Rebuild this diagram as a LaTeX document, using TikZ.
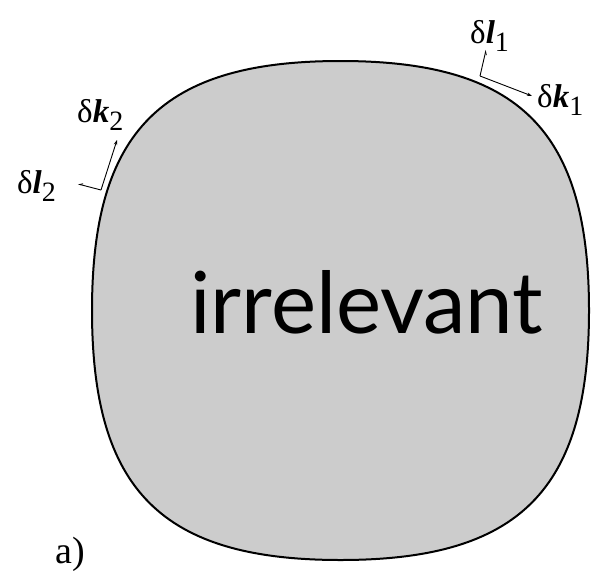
\documentclass[tikz,border=0pt]{standalone}
\usepackage{fontspec}
\usepackage{graphicx}
\setmainfont{Liberation Serif}
\newfontfamily\latofont{Lato}
\usetikzlibrary{arrows.meta}
\tikzset{
  blob/.style={draw=black, line width=2pt, fill=black!20},
  vec/.style={line width=0.9pt},
  kvec/.style={vec, -{Stealth[length=5pt,width=3.5pt]}},
  lvec/.style={vec, -{Straight Barb[harpoon,swap,length=3pt,width=3pt]}},
  lab/.style={anchor=base west, inner sep=0pt, font=\rmfamily\fontsize{33}{33}\selectfont},
}
\newcommand{\vsub}[1]{\raisebox{-8pt}{\fontsize{28}{28}\selectfont #1}}
\begin{document}
\begin{tikzpicture}[x=1pt,y=-1pt]
\useasboundingbox (0,0) rectangle (591,570);
% rounded square
\draw[blob] (340.5,61) .. controls (519.5,61) and (589,130.9) .. (589,310.5)
  .. controls (589,490.1) and (519.5,560) .. (340.5,560)
  .. controls (161.5,560) and (92,490.1) .. (92,310.5)
  .. controls (92,130.9) and (161.5,61) .. cycle;
\node[anchor=base west, inner sep=0pt] (irr) at (190,333)
  {\resizebox{353pt}{63pt}{\latofont irrelevant}};
% vectors at point 1
\coordinate (p1) at (480,76);
\coordinate (k1end) at (532,96);
\coordinate (l1end) at (486,50);
\draw[kvec] (p1) -- (k1end);
\draw[lvec] (p1) -- (l1end);
% vectors at point 2
\coordinate (p2) at (101,190);
\coordinate (k2end) at (117,140);
\coordinate (l2end) at (78,184);
\draw[kvec] (p2) -- (k2end);
\draw[lvec] (p2) -- (l2end);
% labels
\node[lab] (dl1) at (470,43) {δ{\bfseries\itshape l}\vsub{1}};
\node[lab] (dk1) at (537,107) {δ{\bfseries\itshape k}\vsub{1}};
\node[lab] (dk2) at (77,122) {δ{\bfseries\itshape k}\vsub{2}};
\node[lab] (dl2) at (17,193) {δ{\bfseries\itshape l}\vsub{2}};
\node[anchor=base west, inner sep=0pt, font=\rmfamily\fontsize{38}{38}\selectfont] (a) at (55,563) {a)};
\end{tikzpicture}
\end{document}
